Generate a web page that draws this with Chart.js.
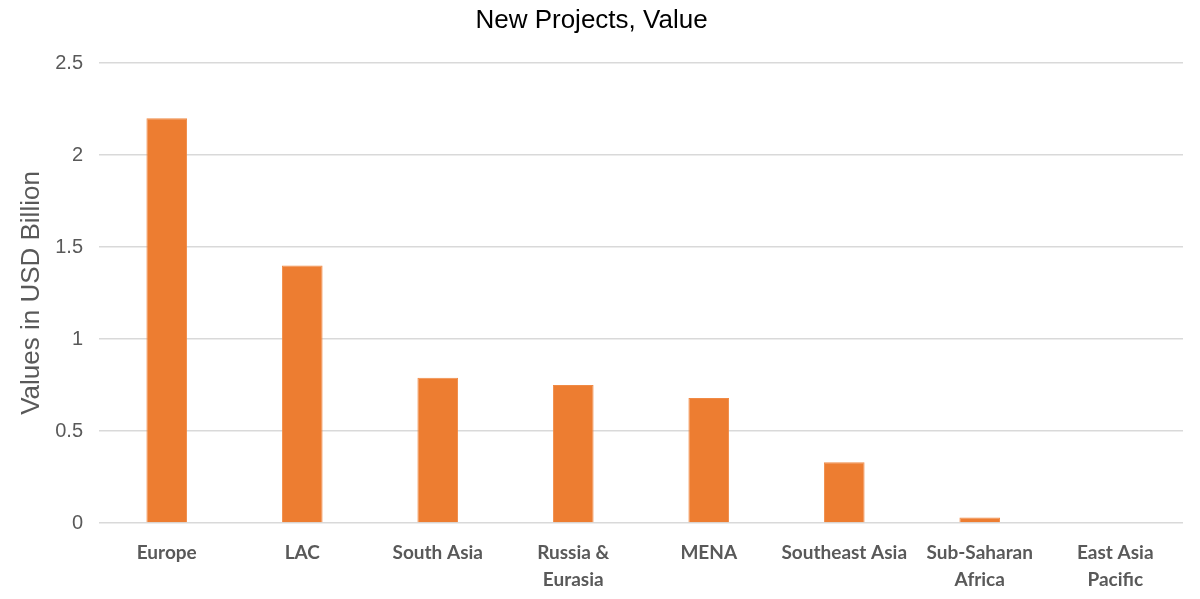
<!DOCTYPE html>
<html>
<head>
<meta charset="utf-8">
<script src="https://cdn.jsdelivr.net/npm/chart.js@4"></script>
<style>
  html, body { margin: 0; padding: 0; background: #fff; }
  #wrap { width: 1200px; height: 599px; }
</style>
</head>
<body>
<div id="wrap"><canvas id="projectsChart" width="1200" height="599"></canvas></div>
<script>
// New Projects, Value
var regions = [
  "Europe",
  "LAC",
  "South Asia",
  ["Russia &", "Eurasia"],
  "MENA",
  "Southeast Asia",
  ["Sub-Saharan", "Africa"],
  ["East Asia", "Pacific"],
];
var projectValues = [2.2, 1.4, 0.79, 0.75, 0.68, 0.33, 0.03, 0];

var projectsCtx = document.getElementById("projectsChart").getContext("2d");
var projectsChart = new Chart(projectsCtx, {
  type: "bar",
  data: {
    labels: regions,
    datasets: [
      {
        label: "Value",
        data: projectValues,
        backgroundColor: "#ED7D31",
        borderColor: "#F08A45",
        borderWidth: 1,
        barPercentage: 0.3,
        categoryPercentage: 1,
      },
    ],
  },
  options: {
    responsive: false,
    animation: false,
    layout: { padding: { left: 0, right: 17, top: 0, bottom: 0 } },
    plugins: {
      legend: { display: false },
      tooltip: { enabled: false },
      title: {
        display: true,
        text: "New Projects, Value",
        color: "#000",
        font: { family: "Liberation Sans", size: 26, weight: "normal" },
        padding: { top: 5, bottom: 26.8 },
      },
    },
    scales: {
      x: {
        grid: { display: false, drawTicks: false },
        border: { display: false },
        ticks: {
          color: "#595959",
          font: { family: "Lato", size: 19, weight: "bold", lineHeight: 1.42 },
          padding: 16,
          maxRotation: 0,
          autoSkip: false,
        },
        afterFit: function (axis) { axis.height = 76; },
      },
      y: {
        min: 0,
        max: 2.5,
        ticks: {
          stepSize: 0.5,
          color: "#595959",
          font: { family: "Liberation Sans", size: 20 },
          padding: 16,
          callback: function (v) { return String(v); },
        },
        grid: { color: "#D9D9D9", lineWidth: 1.5, drawTicks: false },
        border: { display: false },
        title: {
          display: true,
          text: "Values in USD Billion",
          color: "#595959",
          font: { family: "Liberation Sans", size: 26 },
          padding: { top: 16, bottom: 0 },
        },
        afterFit: function (axis) { axis.width = 99; },
      },
    },
  },
});
</script>
</body>
</html>
